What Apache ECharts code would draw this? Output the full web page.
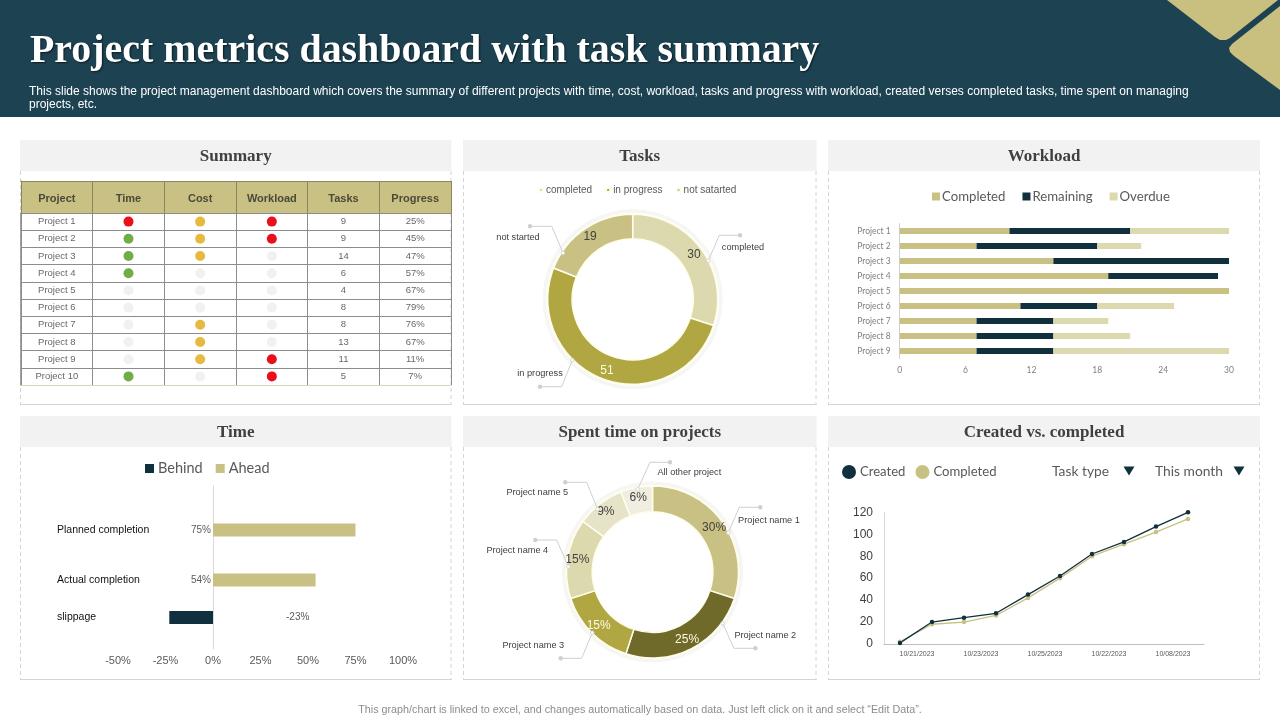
<!DOCTYPE html>
<html>
<head>
<meta charset="utf-8">
<style>html,body{margin:0;padding:0;background:#fff}#c{width:1280px;height:720px}</style>
<script src="https://cdn.jsdelivr.net/npm/echarts@6/dist/echarts.min.js"></script>
</head>
<body>
<div id="c"></div>
<script>
// ---- Summary table
const tableColumns = ['Project','Time','Cost','Workload','Tasks','Progress'];
const tableProjects = ['Project 1','Project 2','Project 3','Project 4','Project 5','Project 6','Project 7','Project 8','Project 9','Project 10'];
const timeStatus = ['red','green','green','green','none','none','none','none','none','green'];
const costStatus = ['amber','amber','amber','none','none','none','amber','amber','amber','none'];
const workloadStatus = ['red','red','none','none','none','none','none','none','red','red'];
const taskCounts = [9,9,14,6,4,8,8,13,11,5];
const progressPct = [25,45,47,57,67,79,76,67,11,7];
// ---- Tasks donut
const taskNames = ['completed','in progress','not satarted'];
const taskValues = [30,51,19];
// ---- Workload
const workloadProjects = ['Project 1','Project 2','Project 3','Project 4','Project 5','Project 6','Project 7','Project 8','Project 9'];
const workloadCompleted = [10,7,14,19,30,11,7,7,7];
const workloadRemaining = [11,11,16,10,0,7,7,7,7];
const workloadOverdue = [9,4,0,0,0,7,5,7,16];
// ---- Time
const timeCategories = ['','','','Planned completion','','','','Actual completion','','','slippage','',''];
const timeAhead = [null,null,null,75,null,null,null,54,null,null,null,null,null];
const timeBehind = [null,null,null,null,null,null,null,null,null,null,-23,null,null];
// ---- Spent time
const spentNames = ['Project name 1','Project name 2','Project name 3','Project name 4','Project name 5','All other project'];
const spentValues = [30,25,15,15,9,6];
// ---- Created vs completed
const lineDates = ['10/21/2023','','10/23/2023','','10/25/2023','','10/22/2023','','10/08/2023',''];
const lineCreated = [1,20,24,28,45,62,82,93,107,120];
const lineCompleted = [2,18,20,26,42,60,80,91,102,114];

const KHAKI='#c9c183', NAVY='#0f303c', PALE='#ddd9ae', OLIVE='#b0a742', DARKOLIVE='#6f6a2a';
const STATUS={red:'#ea0f1a',green:'#70ad47',amber:'#e6b93f',none:'#f1f1f1'};
const SANS='"Liberation Sans", Arial, sans-serif', LATO='Lato, sans-serif', SERIF='"Liberation Serif", serif';

const g=[];
function panel(x,y,w,h,title){
  const hh=31;
  g.push({type:'rect',shape:{x,y,width:w,height:hh},style:{fill:'#f2f2f2'},z:0});
  const side={stroke:'#d4d4d4',lineWidth:1,lineDash:[4,3]};
  g.push({type:'line',shape:{x1:x+.5,y1:y+hh,x2:x+.5,y2:y+h},style:side,z:0});
  g.push({type:'line',shape:{x1:x+w-.5,y1:y+hh,x2:x+w-.5,y2:y+h},style:side,z:0});
  g.push({type:'line',shape:{x1:x,y1:y+h-.5,x2:x+w,y2:y+h-.5},style:{stroke:'#d4d4d4',lineWidth:1},z:0});
  g.push({type:'text',x:x+w/2,y:y+hh/2+1.5,style:{text:title,font:'bold 17px '+SERIF,fill:'#404040',textAlign:'center',textVerticalAlign:'middle'},z:1});
}
function callout(label,tx,ty,pts){
  g.push({type:'polyline',shape:{points:pts},style:{stroke:'#cfcfcf',lineWidth:1,fill:null},z:5});
  g.push({type:'circle',shape:{cx:pts[0][0],cy:pts[0][1],r:2.2},style:{fill:'#cfcfcf'},z:5});
  const e=pts[pts.length-1];
  g.push({type:'circle',shape:{cx:e[0],cy:e[1],r:1.8},style:{fill:'#fff',stroke:'#cfcfcf',lineWidth:.8},z:5});
  g.push({type:'text',x:tx,y:ty,style:{text:label,font:'9.2px '+SANS,fill:'#404040',textAlign:'center',textVerticalAlign:'middle'},z:5});
}
// header band
g.push({type:'rect',shape:{x:0,y:0,width:1280,height:117},style:{fill:'#1d4353'},z:0});
g.push({type:'polygon',shape:{points:[[1167,0],[1215,37],[1220,40],[1226,40],[1230,38],[1278,0]]},style:{fill:'#c9bf7f'},z:1});
g.push({type:'polygon',shape:{points:[[1280,6],[1232,44],[1229,48],[1230,52],[1234,56],[1280,90]]},style:{fill:'#c9bf7f'},z:1});
g.push({type:'text',x:30,y:52,style:{text:'Project metrics dashboard with task summary',font:'bold 39.9px '+SERIF,fill:'#fff',textAlign:'left',textVerticalAlign:'middle',textShadowColor:'rgba(0,0,0,.6)',textShadowBlur:2,textShadowOffsetX:1,textShadowOffsetY:1},z:2});
g.push({type:'text',x:29,y:91.5,style:{text:'This slide shows the project management dashboard which covers the summary of different projects with time, cost, workload, tasks and progress with workload, created verses completed tasks, time spent on managing',font:'12px '+SANS,fill:'#fff',textAlign:'left',textVerticalAlign:'middle'},z:2});
g.push({type:'text',x:29,y:105,style:{text:'projects, etc.',font:'12px '+SANS,fill:'#fff',textAlign:'left',textVerticalAlign:'middle'},z:2});
g.push({type:'text',x:640,y:710.5,style:{text:'This graph/chart is linked to excel, and changes automatically based on data. Just left click on it and select “Edit Data”.',font:'10.75px '+SANS,fill:'#8c8c8c',textAlign:'center',textVerticalAlign:'middle'},z:2});
// panels
panel(20,140,431.5,265,'Summary');
panel(463,140,353.5,265,'Tasks');
panel(828,140,432,265,'Workload');
panel(20,416,431.5,264,'Time');
panel(463,416,353.5,264,'Spent time on projects');
panel(828,416,432,264,'Created vs. completed');
// donut halos
g.push({type:'ring',shape:{cx:632.7,cy:299.3,r:90,r0:86.5},style:{fill:'#f6f6f3'},z:0});
g.push({type:'ring',shape:{cx:652.5,cy:572,r:90.5,r0:87},style:{fill:'#f6f6f3'},z:0});
// callouts
callout('completed',743,247.7,[[740,235.3],[719.3,235.3],[708.3,260.7]]);
callout('not started',518,237.7,[[530,226.3],[551.7,226.3],[563,253]]);
callout('in progress',540,373.7,[[540,386.7],[561.7,386.7],[572.3,360]]);
callout('All other project',689.3,472.7,[[670,462.3],[650,462.3],[637.7,489.3]]);
callout('Project name 5',537.3,492.7,[[565.3,482.3],[586.7,482.3],[597.7,509.3]]);
callout('Project name 4',517.3,550.3,[[535.3,540],[556.7,540],[568.3,566.7]]);
callout('Project name 3',533.3,645.3,[[560.7,658.3],[581.7,658.3],[592.3,632.7]]);
callout('Project name 2',765.3,635.7,[[755.3,648.3],[734,648.3],[722.7,623.3]]);
callout('Project name 1',769,520.7,[[760.3,507.3],[739.3,507.3],[728.3,532.7]]);
// created-vs-completed controls
const ctl=(t,x)=>g.push({type:'text',x,y:472,style:{text:t,font:'13.8px '+LATO,fill:'#595959',textAlign:'left',textVerticalAlign:'middle'},z:2});
ctl('Task type',1052);ctl('This month',1155);
[1129,1239].forEach(x=>g.push({type:'polygon',shape:{points:[[x-5.5,466.5],[x+5.5,466.5],[x,475.5]]},style:{fill:NAVY},z:2}));

const statusPoints=(arr,col)=>arr.map((s,i)=>({value:[col,i],itemStyle:{color:STATUS[s],opacity:1}}));
const textPoints=(arr,col,fmt)=>arr.map((v,i)=>({value:[col,i],label:{formatter:fmt?fmt(v):String(v)}}));
const legendText=(size,pad)=>({fontFamily:LATO,fontSize:size,color:'#595959',padding:[0,0,0,pad]});
const pieBase={type:'pie',startAngle:90,clockwise:true,animation:false,silent:true,
  labelLine:{show:false},emphasis:{disabled:true},avoidLabelOverlap:false,
  itemStyle:{borderColor:'#fffdea',borderWidth:1.5}};
const noBounds={outerBoundsMode:'none'};

const option={
  animation:false,
  textStyle:{fontFamily:SANS},
  graphic:{elements:g},
  legend:[
    {left:538,top:185,padding:0,itemWidth:4,itemHeight:4,itemGap:13,icon:'rect',selectedMode:false,textStyle:{fontFamily:SANS,fontSize:10,color:'#595959',padding:[0,0,0,-2]},data:taskNames},
    {left:932,top:190,padding:0,itemWidth:8,itemHeight:8,itemGap:17,icon:'rect',selectedMode:false,textStyle:legendText(13.2,-3),data:['Completed','Remaining','Overdue']},
    {left:145,top:461,padding:0,itemWidth:9,itemHeight:9,itemGap:13,icon:'rect',selectedMode:false,textStyle:legendText(14.5,-1),data:['Behind','Ahead']},
    {left:842,top:465,padding:0,itemWidth:14,itemHeight:14,itemGap:10,selectedMode:false,textStyle:legendText(13.1,-1),formatter:n=>n.trim(),data:[{name:'Created',icon:'circle'},{name:'Completed ',icon:'circle'}]}
  ],
  grid:[
    {...noBounds,left:21,top:181,width:430,height:32},
    {...noBounds,left:21,top:213,width:430,height:172},
    {...noBounds,left:899.7,top:223.5,width:329.3,height:135},
    {...noBounds,left:118,top:486.25,width:285,height:162.5},
    {...noBounds,left:884,top:512.3,width:320,height:131.7}
  ],
  xAxis:[
    {gridIndex:0,type:'category',position:'top',data:tableColumns,axisTick:{show:false},
      axisLine:{lineStyle:{color:'#8a8660'}},
      axisLabel:{margin:-23,fontFamily:SANS,fontWeight:'bold',fontSize:11,color:'#4a4a38',interval:0},
      splitLine:{show:true,interval:0,lineStyle:{color:'#8a8660',width:1}},
      splitArea:{show:true,interval:0,areaStyle:{color:[KHAKI,KHAKI]}}},
    {gridIndex:1,type:'category',data:tableColumns,axisTick:{show:false},axisLabel:{show:false},
      axisLine:{lineStyle:{color:'#d8d5b0'}},
      splitLine:{show:true,interval:0,lineStyle:{color:'#8c8c8c',width:1}}},
    {gridIndex:2,type:'value',min:0,max:30,interval:6,axisLine:{show:false},axisTick:{show:false},splitLine:{show:false},
      axisLabel:{fontFamily:LATO,fontSize:8.5,color:'#7f7f7f',margin:7}},
    {gridIndex:3,type:'value',min:-50,max:100,interval:25,axisLine:{show:false},axisTick:{show:false},splitLine:{show:false},
      axisLabel:{fontFamily:SANS,fontSize:11,color:'#595959',margin:7,formatter:'{value}%'}},
    {gridIndex:4,type:'category',data:lineDates,boundaryGap:true,axisTick:{show:false},
      axisLine:{lineStyle:{color:'#bfbfbf'}},
      axisLabel:{interval:0,fontFamily:SANS,fontSize:7,color:'#595959',margin:7,padding:[0,0,0,34]}}
  ],
  yAxis:[
    {gridIndex:0,type:'category',data:['header'],axisLabel:{show:false},axisTick:{show:false},axisLine:{lineStyle:{color:'#8a8660'}}},
    {gridIndex:1,type:'category',inverse:true,data:tableProjects,axisLabel:{show:false},axisTick:{show:false},
      axisLine:{lineStyle:{color:'#8c8c8c',width:1.5}},
      splitLine:{show:true,interval:0,lineStyle:{color:'#8c8c8c',width:1}}},
    {gridIndex:2,type:'category',inverse:true,data:workloadProjects,axisTick:{show:false},
      axisLine:{lineStyle:{color:'#d0d0d0'}},
      axisLabel:{fontFamily:LATO,fontSize:8.5,color:'#7f7f7f',margin:9}},
    {gridIndex:3,type:'category',inverse:true,data:timeCategories,axisTick:{show:false},
      axisLine:{onZero:true,lineStyle:{color:'#d9d9d9'}},
      axisLabel:{interval:0,align:'left',margin:61,fontFamily:SANS,fontSize:10.5,color:'#111'}},
    {gridIndex:4,type:'value',min:0,max:120,interval:20,splitLine:{show:false},axisTick:{show:false},
      axisLine:{show:true,lineStyle:{color:'#d9d9d9'}},
      axisLabel:{fontFamily:SANS,fontSize:12,color:'#404040',margin:11}}
  ],
  series:[
    // table
    {type:'scatter',name:'hdr',xAxisIndex:0,yAxisIndex:0,data:[],silent:true},
    {type:'scatter',name:'status',xAxisIndex:1,yAxisIndex:1,symbolSize:10,silent:true,
      data:[...statusPoints(timeStatus,1),...statusPoints(costStatus,2),...statusPoints(workloadStatus,3)]},
    {type:'scatter',name:'cells',xAxisIndex:1,yAxisIndex:1,symbolSize:1,silent:true,itemStyle:{color:'transparent'},
      label:{show:true,position:'inside',fontFamily:SANS,fontSize:9.5,color:'#404040'},
      data:[...textPoints(tableProjects,0),...textPoints(taskCounts,4),...textPoints(progressPct,5,v=>v+'%')]},
    // tasks donut
    {...pieBase,name:'Tasks',center:[632.7,299.3],radius:[60.5,85],
      label:{show:true,position:'inside',formatter:'{c}',fontFamily:SANS,fontSize:12,color:'#404040'},
      data:taskNames.map((n,i)=>({name:n,value:taskValues[i],itemStyle:{color:[PALE,OLIVE,KHAKI][i]},
        label:i===1?{color:'#fffbe0'}:undefined}))},
    // workload
    {type:'bar',name:'Completed',stack:'w',xAxisIndex:2,yAxisIndex:2,barWidth:6.2,silent:true,itemStyle:{color:KHAKI},data:workloadCompleted},
    {type:'bar',name:'Remaining',stack:'w',xAxisIndex:2,yAxisIndex:2,barWidth:6.2,silent:true,itemStyle:{color:NAVY},data:workloadRemaining},
    {type:'bar',name:'Overdue',stack:'w',xAxisIndex:2,yAxisIndex:2,barWidth:6.2,silent:true,itemStyle:{color:PALE},data:workloadOverdue},
    // time
    {type:'bar',name:'Behind',stack:'t',xAxisIndex:3,yAxisIndex:3,barWidth:13,silent:true,itemStyle:{color:NAVY},data:timeBehind,
      label:{show:true,position:'right',offset:[68,0],formatter:p=>p.value+'%',fontFamily:SANS,fontSize:10,color:'#595959'}},
    {type:'bar',name:'Ahead',stack:'t',xAxisIndex:3,yAxisIndex:3,barWidth:13.5,silent:true,itemStyle:{color:KHAKI},data:timeAhead,
      label:{show:true,position:'left',distance:2,formatter:p=>p.value+'%',fontFamily:SANS,fontSize:10,color:'#595959'}},
    // spent
    {...pieBase,name:'Spent',center:[652.5,572],radius:[60.3,86],
      label:{show:true,position:'inside',formatter:'{c}%',fontFamily:SANS,fontSize:12,color:'#404040'},
      data:spentNames.map((n,i)=>({name:n,value:spentValues[i],itemStyle:{color:[KHAKI,DARKOLIVE,OLIVE,PALE,'#e6e3c8','#f0eee0'][i]},
        label:(i===1||i===2)?{color:'#fffbe0'}:undefined}))},
    // line
    {type:'line',name:'Completed ',xAxisIndex:4,yAxisIndex:4,symbol:'circle',symbolSize:4.5,silent:true,
      itemStyle:{color:KHAKI},lineStyle:{color:KHAKI,width:1.3},data:lineCompleted},
    {type:'line',name:'Created',xAxisIndex:4,yAxisIndex:4,symbol:'circle',symbolSize:4.5,silent:true,
      itemStyle:{color:NAVY},lineStyle:{color:NAVY,width:1.3},data:lineCreated}
  ]
};
const chart=echarts.init(document.getElementById('c'),null,{renderer:'canvas'});
chart.setOption(option);
</script>
</body>
</html>
